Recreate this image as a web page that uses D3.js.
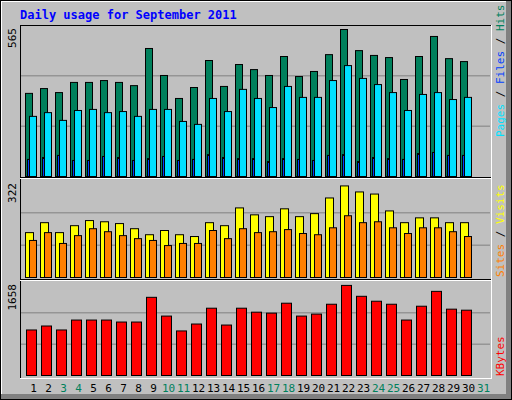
<!DOCTYPE html><html><head><meta charset="utf-8">
<script src="https://cdn.jsdelivr.net/npm/d3@7"></script>
<style>body{margin:0;background:#fff}</style></head><body><svg id="c" width="512" height="400"></svg>
<script>
const days=d3.range(1,31).map(String);
const dayLabels=d3.range(1,32).map(String);
const weekend=["3","4","10","11","17","18","24","25","31"];
const hits=[311,329,314,352,352,359,352,340,479,378,292,333,434,337,419,400,378,449,374,393,456,550,471,453,445,363,449,524,441,430];
const pages=[225,239,210,247,251,239,243,225,251,251,206,195,292,243,326,292,258,337,296,296,359,415,367,344,314,247,307,314,288,296];
const files=[64,71,79,60,60,75,71,60,67,75,60,64,82,71,67,67,56,67,64,60,79,82,56,71,67,64,86,90,79,79];
const visits=[149,182,149,172,189,185,179,162,142,156,142,136,182,172,231,208,202,228,202,212,264,304,284,277,221,182,198,198,182,182];
const sites=[123,149,113,139,162,152,139,129,123,106,113,113,156,129,162,149,152,159,146,142,165,205,182,185,165,146,165,165,152,136];
const kbytes=[803,873,803,978,978,978,943,943,1379,1048,786,908,1187,890,1187,1117,1100,1275,1048,1083,1257,1589,1397,1310,1257,978,1222,1484,1170,1152];
const maxLabels=["565","322","1658"];

const svg=d3.select("#c");
svg.append("rect").attr("x",0).attr("y",0).attr("width",512).attr("height",400).attr("fill","#000");
svg.append("rect").attr("x",1).attr("y",1).attr("width",510).attr("height",398).attr("fill","#808080");
svg.append("rect").attr("x",1).attr("y",1).attr("width",505).attr("height",393).attr("fill","#fff");
svg.append("rect").attr("x",2).attr("y",2).attr("width",504).attr("height",392).attr("fill","#C0C0C0");

svg.append("text").attr("x",20).attr("y",19).text("Daily usage for September 2011")
 .attr("font-family","DejaVu Sans Mono,monospace").attr("font-weight","bold").attr("font-size",12).attr("fill","#0000FF");

const x=d3.scaleBand().domain(dayLabels).range([18,483]);
const L=20,R=491;
const panels=[{top:25,bot:176,max:565},{top:180,bot:277,max:322},{top:281,bot:375,max:1658}];
const ys=panels.map(p=>d3.scaleLinear().domain([0,p.max]).range([p.bot,p.top]));

// frame
svg.append("rect").attr("x",L).attr("y",25).attr("width",R-L).attr("height",354).attr("fill","#C0C0C0");
panels.forEach((p,i)=>{
  const g=svg.append("g");
  [1,2].forEach(k=>g.append("line").attr("x1",L+1).attr("x2",R-1)
    .attr("y1",ys[i](p.max*k/3)+0.5).attr("y2",ys[i](p.max*k/3)+0.5).attr("stroke","#808080"));
  svg.append("text").attr("transform",`translate(16,${p.top+3}) rotate(-90)`).attr("text-anchor","end")
    .attr("font-family","DejaVu Sans Mono,monospace").attr("font-size",11).attr("fill","#000").text(maxLabels[i]);
});
function bars(data,yi,dx,w,fill){
  svg.append("g").selectAll("rect").data(data).join("rect")
   .attr("x",(d,i)=>x(days[i])+dx+0.5).attr("y",d=>ys[yi](d)+0.5)
   .attr("width",w).attr("height",d=>ys[yi](0)-ys[yi](d))
   .attr("fill",fill).attr("stroke","#000").attr("stroke-width",1);
}
const c0=d=>0;
bars(hits,0,7,7,"#00805C");
bars(pages,0,11,7,"#00E0FF");
bars(files,0,9,2,"#0040FF");
bars(visits,1,7,8,"#FFFF00");
bars(sites,1,11,7,"#FF8000");
bars(kbytes,2,8,10,"#FF0000");

// frame lines
const fl=(x1,y1,x2,y2,c)=>svg.append("line").attr("x1",x1).attr("y1",y1).attr("x2",x2).attr("y2",y2).attr("stroke",c).attr("stroke-width",1);
fl(L+0.5,25,L+0.5,379,"#000");fl(L,25.5,R,25.5,"#000");
fl(R+0.5,25,R+0.5,379,"#fff");fl(L,378.5,R+1,378.5,"#fff");
fl(L,177.5,R,177.5,"#000");fl(L,178.5,R,178.5,"#fff");
fl(L,279.5,R,279.5,"#000");fl(L,280.5,R,280.5,"#fff");

svg.append("g").selectAll("text").data(dayLabels).join("text")
 .attr("x",d=>x(d)+x.bandwidth()/2+8).attr("y",392).attr("text-anchor","middle")
 .attr("font-family","DejaVu Sans Mono,monospace").attr("font-size",11)
 .attr("fill",d=>weekend.includes(d)?"#00805C":"#000").text(d=>d);

function vlabel(yBottom,parts){
  const t=svg.append("text").attr("transform",`translate(504,${yBottom}) rotate(-90)`)
   .attr("font-family","DejaVu Sans Mono,monospace").attr("font-size",11);
  parts.forEach(p=>t.append("tspan").attr("fill",p[1]).text(p[0]));
}
vlabel(137,[["Pages","#00E0FF"],[" / ","#000"],["Files","#0040FF"],[" / ","#000"],["Hits","#00805C"]]);
vlabel(277,[["Sites","#FF8000"],[" / ","#000"],["Visits","#FFFF00"]]);
vlabel(376,[["KBytes","#FF0000"]]);
</script></body></html>
